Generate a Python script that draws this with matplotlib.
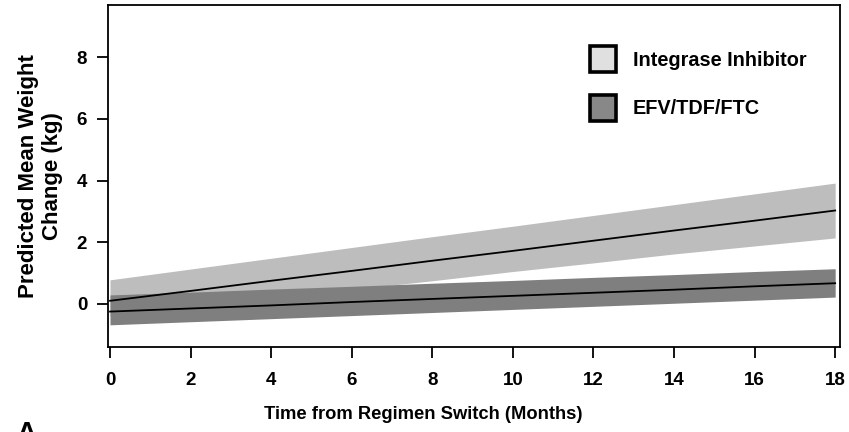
import matplotlib
matplotlib.use("Agg")
import matplotlib.pyplot as plt
from matplotlib.patches import Rectangle

plt.rcParams["font.family"] = ["Liberation Sans", "DejaVu Sans"]
plt.rcParams["font.weight"] = "bold"

months = [0, 2, 4, 6, 8, 10, 12, 14, 16, 18]

insti_mean = [0.10, 0.42, 0.75, 1.07, 1.40, 1.72, 2.05, 2.38, 2.70, 3.03]
insti_upper = [0.78, 1.13, 1.48, 1.83, 2.18, 2.52, 2.87, 3.22, 3.57, 3.92]
insti_lower = [-0.40, -0.10, 0.20, 0.47, 0.75, 1.05, 1.33, 1.62, 1.88, 2.14]

efv_mean = [-0.25, -0.15, -0.05, 0.06, 0.16, 0.26, 0.36, 0.46, 0.57, 0.67]
efv_upper = [0.29, 0.38, 0.48, 0.57, 0.67, 0.76, 0.86, 0.95, 1.05, 1.14]
efv_lower = [-0.68, -0.58, -0.48, -0.38, -0.28, -0.18, -0.08, 0.02, 0.12, 0.22]

legend_labels = ["Integrase Inhibitor", "EFV/TDF/FTC"]
x_ticks = [0, 2, 4, 6, 8, 10, 12, 14, 16, 18]
y_ticks = [0, 2, 4, 6, 8]

light_band = "#bdbdbd"
dark_band = "#7f7f7f"

fig = plt.figure(figsize=(8.49, 4.32), dpi=100)
ax = fig.add_axes([108 / 849, 1 - 347 / 432, (840 - 108) / 849, (347 - 5) / 432])

ax.fill_between(months, insti_lower, insti_upper, color=light_band, lw=0, zorder=1)
ax.fill_between(months, efv_lower, efv_upper, color=dark_band, lw=0, zorder=2)
ax.plot(months, insti_mean, color="black", lw=1.3, zorder=3)
ax.plot(months, efv_mean, color="black", lw=1.3, zorder=3)

ax.set_xlim(-0.05, 18.12)
ax.set_ylim(-1.4, 9.7)
ax.set_xticks(x_ticks)
ax.set_yticks(y_ticks)
ax.tick_params(axis="both", direction="out", length=8, width=1.3, labelsize=13.5)
ax.tick_params(axis="x", pad=10)
ax.tick_params(axis="y", pad=7)
for sp in ax.spines.values():
    sp.set_linewidth(1.3)

ax.set_xlabel("Time from Regimen Switch (Months)", fontsize=13.2, fontweight="bold")
ax.xaxis.set_label_coords(0.43, -0.172)
ax.set_ylabel("Predicted Mean Weight\nChange (kg)", fontsize=16, fontweight="bold",
              labelpad=10, linespacing=1.15)

# legend drawn as outlined swatches with labels
legend_fills = ["#e0e0e0", "#888888"]
swatch_y = [46, 95]
for fill, label, ytop in zip(legend_fills, legend_labels, swatch_y):
    fig.patches.append(Rectangle((590 / 849, 1 - (ytop + 26) / 432), 26 / 849, 26 / 432,
                                 transform=fig.transFigure, facecolor=fill,
                                 edgecolor="black", lw=2.6))
    fig.text(633 / 849, 1 - (ytop + 14) / 432, label, fontsize=14.3, fontweight="bold",
             va="center", ha="left")

fig.text(16 / 849, 1 - 421 / 432, "A", fontsize=20, fontweight="bold", va="top", ha="left")

fig.savefig("out.png", dpi=100)
